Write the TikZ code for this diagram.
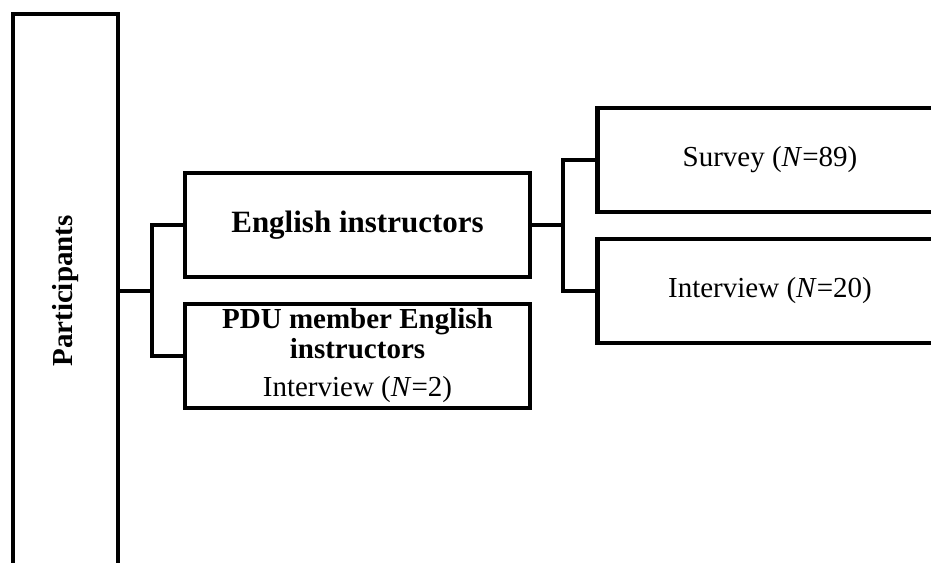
\documentclass[tikz,border=0pt]{standalone}
\usepackage{fontspec}
\setmainfont{Liberation Serif}
\usetikzlibrary{positioning}
\begin{document}
\begin{tikzpicture}[x=0.5pt,y=-0.5pt,line width=2.3pt,
    box/.style={draw,line width=2.3pt,inner sep=1pt,align=center,
        font=\fontsize{14.5}{16}\selectfont},
    wide/.style={box,minimum width=172.5pt,minimum height=52pt}]
        %% page
        \useasboundingbox (0,0) rectangle (931,562);
        \clip (0,0) rectangle (931,562);
        %% participants column
        \node[box,minimum width=52.5pt,minimum height=277pt] (part) at (65.5,291) {};
        \node[rotate=90,font=\fontsize{14.5}{16}\selectfont\bfseries] at (65.5,291) {Participants};
        %% groups
        \node[wide] (eng) at (357.5,225) {\fontsize{15.5}{16}\selectfont\textbf{English instructors}};
        \node[wide] (pdu) at (357.5,356) {\textbf{PDU member English}\\[-1pt]\textbf{instructors}\\[3pt]Interview (\textit{N}=2)};
        %% methods
        \node[wide] (survey) at (770,160) {Survey (\textit{N}=89)};
        \node[wide] (interview) at (770,291) {Interview (\textit{N}=20)};
        %% connectors
        \coordinate (bus1) at (152,291);
        \coordinate (bus2) at (563,225);
        \draw (part.east) -- (bus1);
        \draw (eng.west) -| (bus1) |- (pdu.west);
        \draw (eng.east) -- (bus2);
        \draw (survey.west) -| (bus2) |- (interview.west);
    \end{tikzpicture}
\end{document}
